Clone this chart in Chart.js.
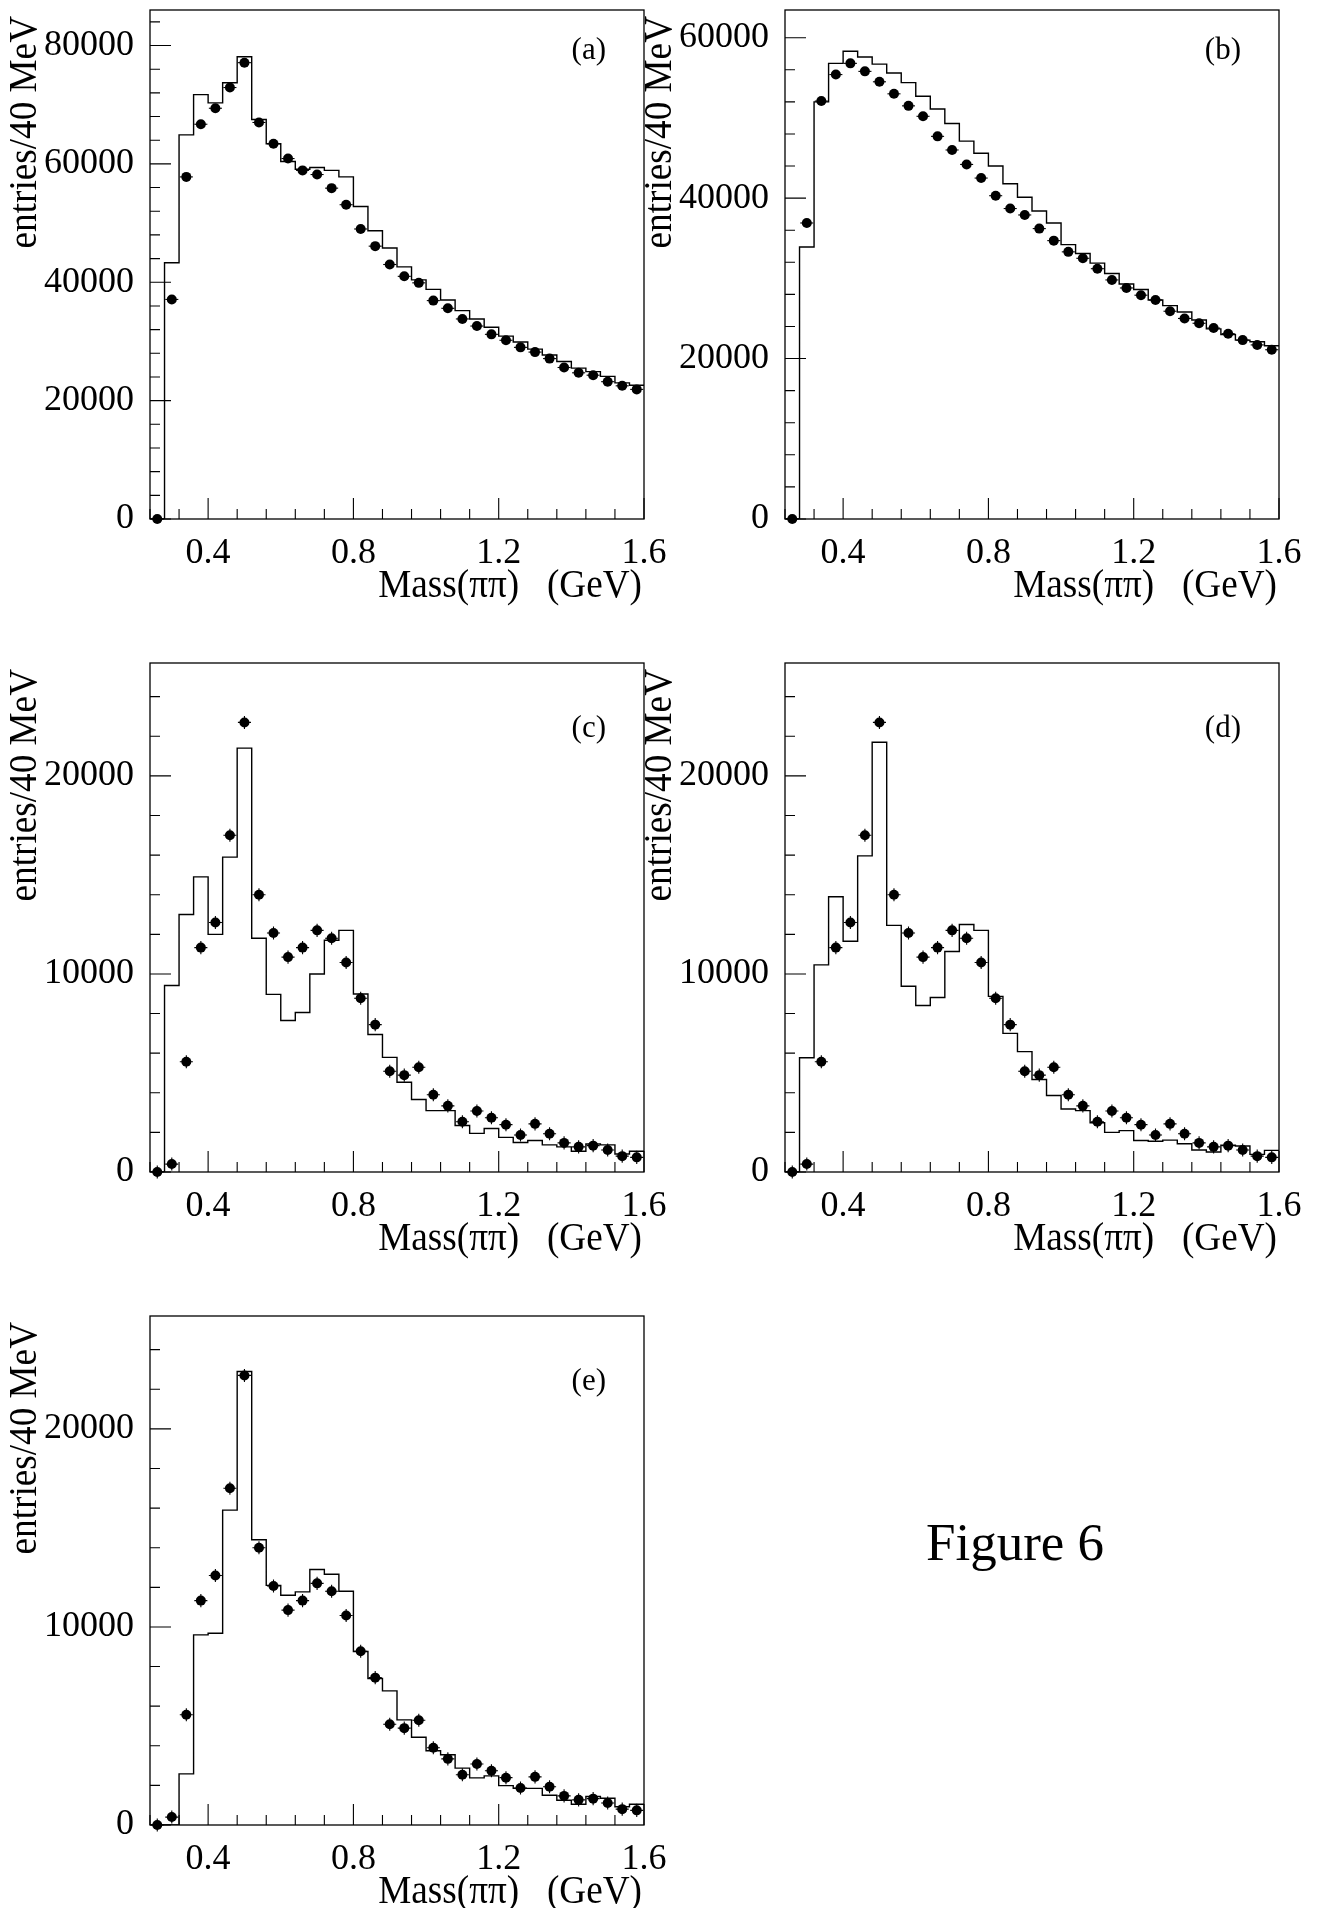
<!DOCTYPE html>
<html>
<head>
<meta charset="utf-8">
<script src="https://cdn.jsdelivr.net/npm/chart.js@4.4.0/dist/chart.umd.min.js"></script>
<style>
  html, body { margin: 0; padding: 0; background: #fff; width: 1321px; height: 1908px; overflow: hidden; }
  canvas { position: absolute; }
  #figlabel { position: absolute; left: 926px; top: 1516px; font: 53px 'Liberation Serif', 'Times New Roman', serif; line-height: 53px; color: #000; white-space: nowrap; }
</style>
</head>
<body>
<canvas id="pa" width="700" height="640" style="left:0px;top:0px"></canvas>
<canvas id="pb" width="700" height="640" style="left:635px;top:0px"></canvas>
<canvas id="pc" width="700" height="640" style="left:0px;top:653px"></canvas>
<canvas id="pd" width="700" height="640" style="left:635px;top:653px"></canvas>
<canvas id="pe" width="700" height="640" style="left:0px;top:1306px"></canvas>
<div id="figlabel">Figure 6</div>

<script>
// bin edges in GeV (40 MeV bins)
const binEdges = [0.24, 0.28, 0.32, 0.36, 0.40, 0.44, 0.48, 0.52, 0.56, 0.60, 0.64, 0.68,
                  0.72, 0.76, 0.80, 0.84, 0.88, 0.92, 0.96, 1.00, 1.04, 1.08, 1.12, 1.16,
                  1.20, 1.24, 1.28, 1.32, 1.36, 1.40, 1.44, 1.48, 1.52, 1.56, 1.60];

// data points (one per bin)
const dataA = [0, 37100, 57800, 66700, 69400, 72900, 77100, 67000, 63400, 60900, 58900, 58200,
               55900, 53100, 49000, 46100, 43000, 41000, 39900, 36900, 35600, 33800, 32600, 31200,
               30200, 29000, 28200, 27100, 25600, 24700, 24300, 23200, 22500, 21900];
const dataB = [0, 36900, 52100, 55400, 56800, 55800, 54500, 53000, 51500, 50200, 47700, 46000,
               44200, 42500, 40300, 38700, 37900, 36200, 34700, 33300, 32500, 31200, 29800, 28800,
               27900, 27300, 25900, 25000, 24400, 23800, 23100, 22300, 21700, 21100];
// (c), (d) and (e) show the same data points
const dataCDE = [0, 400, 5570, 11330, 12600, 17000, 22700, 14000, 12070, 10850, 11330, 12200,
                 11800, 10580, 8770, 7440, 5090, 4890, 5290, 3900, 3340, 2540, 3080, 2740,
                 2390, 1870, 2430, 1930, 1470, 1270, 1330, 1110, 800, 740];

// histograms (one value per bin)
const mcA = [0, 43300, 64900, 71700, 70300, 73700, 78100, 67500, 63400, 60400, 59100, 59400,
             58900, 57800, 52800, 48700, 45800, 42600, 40400, 38800, 37000, 35200, 33800, 32400,
             30900, 29900, 28700, 27700, 26600, 25500, 24900, 24100, 23000, 22600];
const mcB = [0, 33900, 52000, 56800, 58300, 57600, 56700, 55600, 54400, 52700, 51100, 49300,
             47100, 45600, 44000, 41800, 40100, 38400, 36900, 34200, 33100, 31900, 30600, 29300,
             28600, 27300, 26600, 25800, 24800, 23700, 23000, 22300, 22100, 21600];
const mcC = [0, 9420, 13000, 14900, 12000, 15900, 21400, 11800, 8970, 7650, 8050, 10000,
             11700, 12200, 8990, 6940, 5790, 4530, 3660, 3100, 3100, 2350, 1950, 2200,
             1750, 1490, 1590, 1370, 1270, 1050, 1410, 1370, 910, 1050];
const mcD = [0, 5770, 10460, 13900, 11650, 15960, 21700, 12450, 9380, 8410, 8810, 11130,
             12500, 12200, 8870, 7000, 6080, 4670, 3860, 3180, 3100, 2490, 2000, 2090,
             1590, 1550, 1610, 1430, 1110, 1010, 1350, 1310, 890, 1090];
const mcE = [0, 0, 2580, 9600, 9680, 15900, 22900, 14400, 12100, 11600, 11770, 12900,
             12660, 11800, 8760, 7400, 6770, 5310, 4430, 3750, 3550, 2870, 2380, 2480,
             1990, 1850, 1850, 1500, 1250, 1050, 1440, 1350, 920, 1050];

// axis ticks (all ticks, and the labelled ones)
const xTicks = [0.24, 0.32, 0.40, 0.48, 0.56, 0.64, 0.72, 0.80, 0.88, 0.96, 1.04, 1.12,
                1.20, 1.28, 1.36, 1.44, 1.52, 1.60];
const xMajor = [0.4, 0.8, 1.2, 1.6];
const yTicksA = [0, 4000, 8000, 12000, 16000, 20000, 24000, 28000, 32000, 36000, 40000,
                 44000, 48000, 52000, 56000, 60000, 64000, 68000, 72000, 76000, 80000, 84000];
const yTicksB = [0, 4000, 8000, 12000, 16000, 20000, 24000, 28000, 32000, 36000, 40000,
                 44000, 48000, 52000, 56000, 60000];
const yTicksCDE = [0, 2000, 4000, 6000, 8000, 10000, 12000, 14000, 16000, 18000, 20000,
                   22000, 24000];
const yMajorAB = [0, 20000, 40000, 60000, 80000];
const yMajorCDE = [0, 10000, 20000];

const xTitle = 'Mass(\u03c0\u03c0)   (GeV)';
const yTitle = 'entries/40 MeV';
const serif = "'Liberation Serif', 'Times New Roman', serif";

Chart.defaults.font.family = serif;
Chart.defaults.color = '#000';

function histPoints(values) {
    const pts = values.map((v, i) => ({ x: binEdges[i], y: v }));
    pts.push({ x: binEdges[binEdges.length - 1], y: values[values.length - 1] });
    return pts;
}

function dataPoints(values) {
    return values.map((v, i) => ({ x: (binEdges[i] + binEdges[i + 1]) / 2, y: v }));
}

// text squeezed a little sideways, like the PAW font
function squeezedText(ctx, text, x, y, sx) {
    ctx.save();
    ctx.translate(x, y);
    ctx.scale(sx, 1);
    ctx.fillText(text, 0, 0);
    ctx.restore();
}

// frame, inward ticks, titles, panel label and error bars
const paw = {
    id: 'paw',
    beforeDatasetsDraw(chart, args, o) {
        const ctx = chart.ctx, xs = chart.scales.x, ys = chart.scales.y;
        const meta = chart.getDatasetMeta(1);
        ctx.save();
        ctx.strokeStyle = '#000';
        ctx.lineWidth = 1.1;
        meta.data.forEach((el, i) => {
            const p = chart.data.datasets[1].data[i];
            const x1 = xs.getPixelForValue(p.x - 0.018), x2 = xs.getPixelForValue(p.x + 0.018);
            ctx.beginPath();
            ctx.moveTo(x1, el.y); ctx.lineTo(x2, el.y);
            if (o.yErr > 0) {
                ctx.moveTo(el.x, ys.getPixelForValue(p.y - o.yErr));
                ctx.lineTo(el.x, ys.getPixelForValue(p.y + o.yErr));
            }
            ctx.stroke();
        });
        ctx.restore();
    },
    afterDraw(chart, args, o) {
        const ctx = chart.ctx, xs = chart.scales.x, ys = chart.scales.y;
        const { left, right, top, bottom } = chart.chartArea;
        ctx.save();
        ctx.strokeStyle = '#000';
        ctx.lineWidth = 1.3;
        ctx.strokeRect(left, top, right - left, bottom - top);

        ctx.lineWidth = 1.1;
        ctx.beginPath();
        ys.ticks.forEach(t => {
            const py = ys.getPixelForValue(t.value);
            const len = o.yMajor.includes(t.value) ? 21 : 10;
            ctx.moveTo(left, py); ctx.lineTo(left + len, py);
        });
        xs.ticks.forEach(t => {
            const v = Math.round(t.value * 100) / 100;
            const px = xs.getPixelForValue(v);
            const len = xMajor.includes(v) ? 21 : 10;
            ctx.moveTo(px, bottom); ctx.lineTo(px, bottom - len);
        });
        ctx.stroke();

        ctx.fillStyle = '#000';
        ctx.font = '40px ' + serif;
        ctx.textAlign = 'right';
        ctx.textBaseline = 'alphabetic';
        squeezedText(ctx, xTitle, right - 2, bottom + 78, 0.93);

        ctx.save();
        ctx.translate(left - 114, top + 6);
        ctx.rotate(-Math.PI / 2);
        squeezedText(ctx, yTitle, 0, 0, 0.93);
        ctx.restore();

        ctx.font = '31px ' + serif;
        ctx.textBaseline = 'middle';
        ctx.fillText(o.label, right - 38, top + o.labelDy);
        ctx.restore();
    }
};

function makePanel(id, label, points, mc, yMax, yTicks, yMajor, labelDy, yErr) {
    new Chart(document.getElementById(id), {
        type: 'scatter',
        data: {
            datasets: [{
                type: 'line',
                data: histPoints(mc),
                stepped: true,
                borderColor: '#000',
                borderWidth: 1.4,
                pointRadius: 0,
                fill: false
            }, {
                type: 'scatter',
                data: dataPoints(points),
                pointRadius: 5,
                pointBackgroundColor: '#000',
                pointBorderWidth: 0,
                clip: false
            }]
        },
        options: {
            responsive: false,
            animation: false,
            events: [],
            layout: { padding: { top: 10, right: 56, bottom: 21, left: 0 } },
            plugins: {
                legend: { display: false },
                tooltip: { enabled: false },
                paw: { label, yMajor, labelDy, yErr }
            },
            scales: {
                x: {
                    type: 'linear',
                    min: 0.24,
                    max: 1.6,
                    grid: { display: false },
                    border: { display: false },
                    afterBuildTicks(s) { s.ticks = xTicks.map(v => ({ value: v })); },
                    ticks: {
                        autoSkip: false,
                        maxRotation: 0,
                        padding: 5,
                        font: { size: 36 },
                        callback: v => xMajor.includes(Math.round(v * 100) / 100) ? v.toFixed(1) : ''
                    },
                    afterFit(s) { s.height = 100; s.paddingLeft = 0; s.paddingRight = 0; }
                },
                y: {
                    type: 'linear',
                    min: 0,
                    max: yMax,
                    grid: { display: false },
                    border: { display: false },
                    afterBuildTicks(s) { s.ticks = yTicks.map(v => ({ value: v })); },
                    ticks: {
                        autoSkip: false,
                        padding: 8,
                        font: { size: 36 },
                        callback: v => yMajor.includes(v) ? String(v) : ''
                    },
                    afterFit(s) { s.width = 150; s.paddingTop = 0; s.paddingBottom = 0; }
                }
            }
        },
        plugins: [paw]
    });
}

makePanel('pa', '(a)', dataA, mcA, 86000, yTicksA, yMajorAB, 41, 0);
makePanel('pb', '(b)', dataB, mcB, 63450, yTicksB, yMajorAB, 41, 0);
makePanel('pc', '(c)', dataCDE, mcC, 25700, yTicksCDE, yMajorCDE, 66, 330);
makePanel('pd', '(d)', dataCDE, mcD, 25700, yTicksCDE, yMajorCDE, 66, 330);
makePanel('pe', '(e)', dataCDE, mcE, 25700, yTicksCDE, yMajorCDE, 66, 330);
</script>
</body>
</html>
